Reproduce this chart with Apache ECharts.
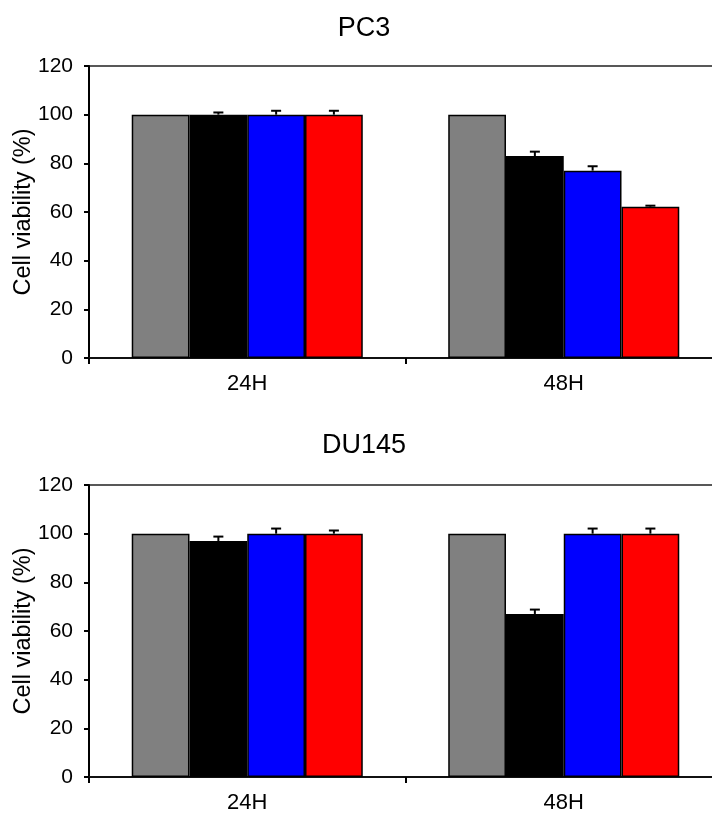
<!DOCTYPE html>
<html>
<head>
<meta charset="utf-8">
<script src="https://cdn.jsdelivr.net/npm/echarts@6/dist/echarts.min.js"></script>
<style>
  html, body { margin: 0; padding: 0; background: #fff; overflow: hidden; }
  #chart { width: 724px; height: 816px; }
</style>
</head>
<body>
<div id="chart"></div>
<script>
// data
const categories = ['24H', '48H']
const groups = ['Control', 'Treatment 1', 'Treatment 2', 'Treatment 3']
const colors = ['#808080', '#000000', '#0000ff', '#ff0000']
const yTicks = [0, 20, 40, 60, 80, 100, 120]

const pc3Values = [
  [100, 100],
  [100, 83],
  [100, 77],
  [100, 62.2]
]
const pc3Errors = [
  [0, 0],
  [0.9, 1.8],
  [1.6, 1.8],
  [1.6, 0.4]
]

const du145Values = [
  [100, 100],
  [97, 67],
  [100, 100],
  [100, 100]
]
const du145Errors = [
  [0, 0],
  [1.8, 1.8],
  [2.1, 2.1],
  [1.3, 2.1]
]

const panels = [
  { title: 'PC3', values: pc3Values, errors: pc3Errors },
  { title: 'DU145', values: du145Values, errors: du145Errors }
]

const font = 'Arial, "Liberation Sans", sans-serif'
const gapRatio = 0.27

var myChart = echarts.init(document.getElementById('chart'))

const gridTops = [66, 485]
const titleTops = [10, 427]

let grid = []
let xAxis = []
let yAxis = []
let title = []
let series = []

panels.forEach((p, k) => {
  title.push({
    text: p.title,
    left: 359,
    textAlign: 'center',
    top: titleTops[k],
    textStyle: { fontFamily: font, fontSize: 27, fontWeight: 'normal', color: '#000' }
  })
  grid.push({
    left: 89,
    width: 633,
    top: gridTops[k],
    height: 292,
    outerBoundsMode: 'none',
    containLabel: false,
    show: true,
    borderColor: '#222',
    borderWidth: 1.5,
    backgroundColor: '#fff'
  })
  xAxis.push({
    type: 'category',
    gridIndex: k,
    data: categories,
    axisLine: { lineStyle: { color: '#111', width: 2 } },
    axisTick: { show: true, length: 6, lineStyle: { color: '#000', width: 2 } },
    axisLabel: { fontFamily: font, fontSize: 22, color: '#000', margin: 15 }
  })
  yAxis.push({
    type: 'value',
    gridIndex: k,
    min: yTicks[0],
    max: yTicks[yTicks.length - 1],
    interval: 20,
    name: 'Cell viability (%)',
    nameLocation: 'middle',
    nameRotate: 90,
    nameGap: 53,
    nameMoveOverlap: false,
    nameTextStyle: { fontFamily: font, fontSize: 23.5, color: '#000' },
    splitLine: { show: false },
    axisLine: { show: true, lineStyle: { color: '#000', width: 2 } },
    axisTick: { show: true, length: 5, lineStyle: { color: '#000', width: 2 } },
    axisLabel: { fontFamily: font, fontSize: 21, color: '#000', margin: 16 }
  })

  groups.forEach((g, i) => {
    series.push({
      name: g,
      type: 'bar',
      xAxisIndex: k,
      yAxisIndex: k,
      barGap: '0%',
      barCategoryGap: (gapRatio * 100) + '%',
      itemStyle: { color: colors[i], borderColor: '#000', borderWidth: 1.5 },
      z: 2,
      data: p.values[i]
    })
  })

  // error bars (upper only), one custom series per panel
  let errData = []
  groups.forEach((g, i) => {
    categories.forEach((c, j) => {
      if (p.errors[i][j] > 0) {
        errData.push([j, p.values[i][j], p.values[i][j] + p.errors[i][j], i])
      }
    })
  })
  series.push({
    type: 'custom',
    xAxisIndex: k,
    yAxisIndex: k,
    z: 5,
    silent: true,
    renderItem: (params, api) => {
      const cat = api.value(0)
      const base = api.coord([cat, api.value(1)])
      const top = api.coord([cat, api.value(2)])
      const bandW = api.size([1, 0])[0]
      const barW = bandW * (1 - gapRatio) / groups.length
      const idx = api.value(3)
      const x = base[0] + (idx - (groups.length - 1) / 2) * barW
      const cap = 5
      const style = { stroke: '#000', lineWidth: 2, fill: null }
      return {
        type: 'group',
        children: [
          { type: 'line', shape: { x1: x, y1: base[1], x2: x, y2: top[1] }, style },
          { type: 'line', shape: { x1: x - cap, y1: top[1], x2: x + cap, y2: top[1] }, style }
        ]
      }
    },
    data: errData
  })
})

myChart.setOption({
  animation: false,
  backgroundColor: '#fff',
  title,
  grid,
  xAxis,
  yAxis,
  series
})
</script>
</body>
</html>
